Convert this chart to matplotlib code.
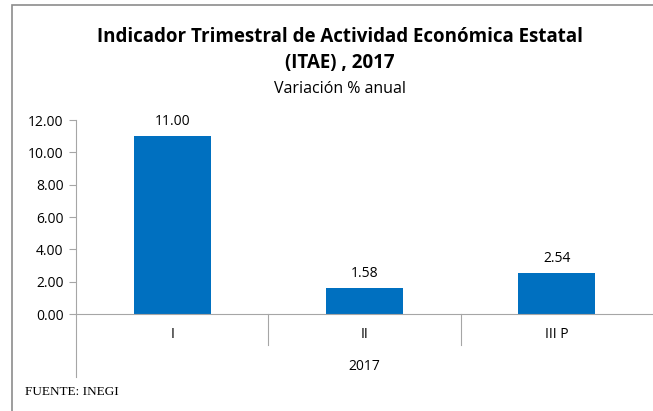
import numpy as np
import matplotlib.pyplot as plt
from matplotlib.patches import Rectangle
import matplotlib.transforms as mtransforms

plt.rcParams['font.family'] = ['Open Sans', 'DejaVu Sans']

categories = ['I', 'II', 'III P']
values = [11.00, 1.58, 2.54]
year_label = '2017'
yticks = [0, 2, 4, 6, 8, 10, 12]

fig = plt.figure(figsize=(6.53, 4.11), dpi=100)
ax = fig.add_axes([76/653, 97/411, 1 - 76/653, 194/411])

x = np.arange(len(categories))
ax.bar(x, values, width=0.4, color='#0070C0')
for xi, v in zip(x, values):
    ax.text(xi, v + 0.45, '{:.2f}'.format(v), ha='center', va='bottom', fontsize=10)

ax.set_xlim(-0.5, len(categories) - 0.5)
ax.set_ylim(0, 12)
ax.set_yticks(yticks)
ax.set_yticklabels(['{:.2f}'.format(t) for t in yticks], fontsize=10)
ax.tick_params(axis='y', length=5, color='#a6a6a6', pad=4)
ax.set_xticks([])

for s in ['top', 'right']:
    ax.spines[s].set_visible(False)
ax.spines['left'].set_color('#a6a6a6')
ax.spines['bottom'].set_color('#a6a6a6')

# categorias y separadores
tr = mtransforms.blended_transform_factory(ax.transData, ax.transAxes)
for xi, c in zip(x, categories):
    ax.text(xi, -0.105, c, transform=tr, ha='center', va='center', fontsize=10)
for b in [0.5, 1.5]:
    ax.plot([b, b], [0, -0.16], transform=tr, color='#a6a6a6', lw=0.8, clip_on=False)
ax.plot([-0.5, -0.5], [0, -0.325], transform=tr, color='#a6a6a6', lw=0.8, clip_on=False)
ax.text(1, -0.27, year_label, transform=tr, ha='center', va='center', fontsize=10)

# titulos
fig.text(0.52, 1 - 37/411, 'Indicador Trimestral de Actividad Económica Estatal',
         ha='center', va='center', fontsize=13.5, fontweight='bold')
fig.text(0.52, 1 - 63/411, '(ITAE) , 2017', ha='center', va='center',
         fontsize=13.5, fontweight='bold')
fig.text(0.52, 1 - 89/411, 'Variación % anual', ha='center', va='center', fontsize=11.5)
fig.text(25/653, 1 - 392/411, 'FUENTE: INEGI', ha='left', va='center',
         fontsize=9.5, family=['Liberation Serif'])

# marco
fig.patches.append(Rectangle((12/653, -0.05), 1.1, 1 - 5/411 + 0.05,
                             transform=fig.transFigure, fill=False,
                             edgecolor='#8c8c8c', lw=1.2))

fig.savefig('out.png', dpi=100)
